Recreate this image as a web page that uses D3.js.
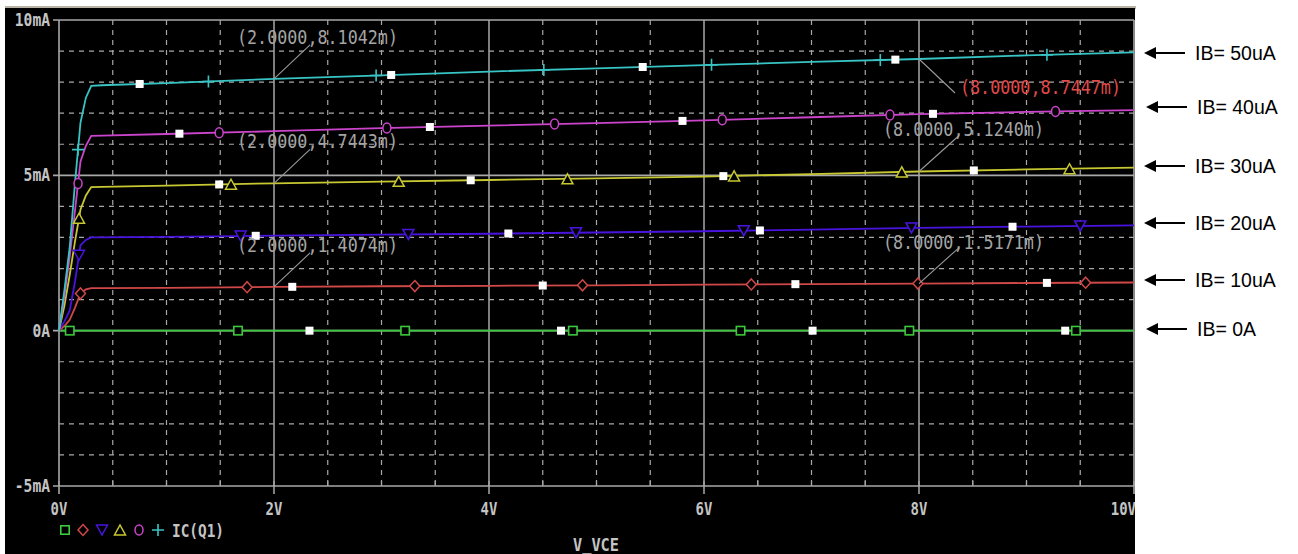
<!DOCTYPE html>
<html><head><meta charset="utf-8">
<script src="https://cdn.jsdelivr.net/npm/d3@7"></script>
<style>html,body{margin:0;padding:0;background:#fff;overflow:hidden}</style>
</head><body>
<svg id="c" width="1298" height="554"></svg>
<script>
// ---------- data ----------
const vce = [0, 0.05, 0.1, 0.15, 0.2, 0.25, 0.3, 0.4, 1, 2, 3, 4, 5, 6, 7, 8, 9, 10];
const ic_0uA  = [0,0,0,0,0,0,0,0,0,0,0,0,0,0,0,0,0,0];
const ic_10uA = [0,0.15,0.35,0.75,1.2,1.33,1.37,1.37,1.38,1.407,1.43,1.445,1.46,1.48,1.50,1.517,1.535,1.55];
const ic_20uA = [0,0.3,0.65,1.6,2.75,2.92,3.0,3.0,3.02,3.06,3.09,3.12,3.16,3.2,3.25,3.31,3.35,3.39];
const ic_30uA = [0,0.8,1.8,2.9,3.9,4.35,4.62,4.63,4.67,4.744,4.80,4.85,4.90,4.96,5.04,5.124,5.19,5.25];
const ic_40uA = [0,1.1,2.4,3.9,5.45,5.95,6.27,6.28,6.33,6.42,6.52,6.60,6.68,6.77,6.87,6.97,7.04,7.10];
const ic_50uA = [0,1.3,2.7,4.8,6.7,7.5,7.88,7.9,7.97,8.104,8.22,8.34,8.44,8.55,8.65,8.745,8.86,8.96];

const seriesNames = ["IB= 0A","IB= 10uA","IB= 20uA","IB= 30uA","IB= 40uA","IB= 50uA"];
const seriesColors = ["#3cc83c","#d04848","#4a14e0","#c8c832","#cc44cc","#38c4c4"];
const seriesSymbols = ["square","diamond","triDown","triUp","circle","plus"];
const seriesValues = [ic_0uA, ic_10uA, ic_20uA, ic_30uA, ic_40uA, ic_50uA];

// symbol marker positions (V) along each trace
const symMarks = [
  [0.10,1.665,3.22,4.78,6.34,7.91,9.46],
  [0.20,1.75,3.31,4.87,6.44,7.99,9.55],
  [0.186,1.69,3.25,4.81,6.37,7.93,9.50],
  [0.186,1.60,3.16,4.73,6.28,7.84,9.40],
  [0.177,1.49,3.05,4.61,6.17,7.73,9.27],
  [0.177,1.39,2.95,4.51,6.07,7.64,9.19]
];
// white square (data point) marker positions (V)
const whiteMarks = [
  [2.33,4.67,7.01,9.36],
  [2.17,4.50,6.85,9.19],
  [1.83,4.18,6.52,8.87],
  [1.49,3.83,6.18,8.51],
  [1.12,3.45,5.80,8.13],
  [0.75,3.09,5.43,7.78]
];

const yTickValues = [10,5,0,-5];
const yTickLabels = ["10mA","5mA","0A","-5mA"];
const xTickValues = [0,2,4,6,8,10];
const xTickLabels = ["0V","2V","4V","6V","8V","10V"];

const cursorX = [2,2,2,8,8,8];
const cursorY = [8.1042,4.7443,1.4074,8.7447,5.1240,1.5171];
const cursorText = ["(2.0000,8.1042m)","(2.0000,4.7443m)","(2.0000,1.4074m)","(8.0000,8.7447m)","(8.0000,5.1240m)","(8.0000,1.5171m)"];

const legendText = "IC(Q1)";
const xAxisTitle = "V_VCE";

// ---------- drawing ----------
const svg = d3.select("#c");
const x = d3.scaleLinear().domain([0,10]).range([59,1134]);
const y = d3.scaleLinear().domain([-5,10]).range([486,20]);

svg.append("rect").attr("width",1298).attr("height",554).attr("fill","#fff");
svg.append("defs").append("clipPath").attr("id","panel")
  .append("rect").attr("x",5).attr("y",8).attr("width",1130).attr("height",546);
svg.append("rect").attr("x",5).attr("y",6).attr("width",1131).attr("height",3).attr("fill","#b8b4a8");
const g = svg.append("g").attr("clip-path","url(#panel)");
g.append("rect").attr("x",5).attr("y",8).attr("width",1130).attr("height",546).attr("fill","#000");

const gridCol = "#a8a8a8";
// dashed grid
const vMinor = d3.range(0.5,10,0.5).filter(v => Math.abs(v/2 - Math.round(v/2))>1e-6);
g.selectAll(".vg").data(vMinor).join("line")
  .attr("x1",d=>x(d)).attr("x2",d=>x(d)).attr("y1",y(10)).attr("y2",y(-5))
  .attr("stroke",gridCol).attr("stroke-width",1.2).attr("stroke-dasharray","5,5");
const hMinor = d3.range(-4,10,1).filter(v => v!==0 && v!==5);
g.selectAll(".hg").data(hMinor).join("line")
  .attr("y1",d=>y(d)).attr("y2",d=>y(d)).attr("x1",x(0)).attr("x2",x(10))
  .attr("stroke",gridCol).attr("stroke-width",1.2).attr("stroke-dasharray","5,5");
// solid grid
g.selectAll(".vs").data([2,4,6,8]).join("line")
  .attr("x1",d=>x(d)).attr("x2",d=>x(d)).attr("y1",y(10)).attr("y2",y(-5)+8)
  .attr("stroke",gridCol).attr("stroke-width",1.5);
g.selectAll(".hs").data([10,5,0,-5]).join("line")
  .attr("y1",d=>y(d)).attr("y2",d=>y(d)).attr("x1",x(0)-6).attr("x2",x(10))
  .attr("stroke",gridCol).attr("stroke-width",1.6);
// axes frame
g.append("line").attr("x1",x(0)).attr("x2",x(0)).attr("y1",y(10)).attr("y2",y(-5)+8)
  .attr("stroke",gridCol).attr("stroke-width",1.6);
g.append("line").attr("x1",x(10)).attr("x2",x(10)).attr("y1",y(10)).attr("y2",y(-5)+8)
  .attr("stroke",gridCol).attr("stroke-width",1.6);
// minor ticks on x axis
g.selectAll(".xt").data(d3.range(0,10.01,0.5)).join("line")
  .attr("x1",d=>x(d)).attr("x2",d=>x(d)).attr("y1",y(-5)-5).attr("y2",y(-5))
  .attr("stroke",gridCol).attr("stroke-width",1.2);

const tickFont = "'DejaVu Sans Mono', monospace";
function tickText(sel){
  return sel.attr("font-family",tickFont).attr("font-size",17).attr("font-weight","bold")
    .attr("fill","#c4c4c4").attr("lengthAdjust","spacingAndGlyphs");
}
g.selectAll(".yl").data(yTickValues).join("text")
  .attr("x",50).attr("y",d=>y(d)+6).attr("text-anchor","end")
  .call(tickText)
  .attr("textLength",(d,i)=>yTickLabels[i].length*8.8)
  .text((d,i)=>yTickLabels[i]);
g.selectAll(".xl").data(xTickValues).join("text")
  .attr("x",d=> d===10 ? 1136 : x(d)).attr("y",515)
  .attr("text-anchor",d=> d===10 ? "end" : "middle")
  .call(tickText)
  .attr("textLength",(d,i)=>xTickLabels[i].length*8.4)
  .text((d,i)=>xTickLabels[i]);
g.append("text").attr("x",573).attr("y",551)
  .call(tickText).attr("textLength",46).text(xAxisTitle);

// traces
const line = d3.line().x(d=>x(d[0])).y(d=>y(d[1]));
seriesValues.forEach((vals,i)=>{
  g.append("path").datum(vce.map((v,k)=>[v,vals[k]]))
    .attr("d",line).attr("fill","none").attr("stroke",seriesColors[i]).attr("stroke-width",1.8);
});

function interp(vals, v){
  for (let k=1;k<vce.length;k++){
    if (v<=vce[k]){ const t=(v-vce[k-1])/(vce[k]-vce[k-1]); return vals[k-1]+t*(vals[k]-vals[k-1]); }
  }
  return vals[vals.length-1];
}
function drawSymbol(sel, type, cx, cy, color){
  const s = 4.2;
  if (type==="square") sel.append("rect").attr("x",cx-s).attr("y",cy-s).attr("width",2*s).attr("height",2*s)
      .attr("fill","#000").attr("stroke",color).attr("stroke-width",1.6);
  else if (type==="diamond") sel.append("path").attr("d",`M${cx},${cy-5.5}L${cx+5},${cy}L${cx},${cy+5.5}L${cx-5},${cy}Z`)
      .attr("fill","#000").attr("stroke",color).attr("stroke-width",1.5);
  else if (type==="triDown") sel.append("path").attr("d",`M${cx-5.5},${cy-5}L${cx+5.5},${cy-5}L${cx},${cy+5}Z`)
      .attr("fill","#000").attr("stroke",color).attr("stroke-width",1.5);
  else if (type==="triUp") sel.append("path").attr("d",`M${cx-5.5},${cy+5}L${cx+5.5},${cy+5}L${cx},${cy-5}Z`)
      .attr("fill","#000").attr("stroke",color).attr("stroke-width",1.5);
  else if (type==="circle") sel.append("ellipse").attr("cx",cx).attr("cy",cy).attr("rx",4).attr("ry",5)
      .attr("fill","#000").attr("stroke",color).attr("stroke-width",1.5);
  else if (type==="plus") sel.append("path").attr("d",`M${cx-6},${cy}H${cx+6}M${cx},${cy-6}V${cy+6}`)
      .attr("fill","none").attr("stroke",color).attr("stroke-width",1.6);
}
seriesValues.forEach((vals,i)=>{
  symMarks[i].forEach(v=>drawSymbol(g, seriesSymbols[i], x(v), y(interp(vals,v)), seriesColors[i]));
  g.selectAll(null).data(whiteMarks[i]).join("rect")
    .attr("x",v=>x(v)-4).attr("y",v=>y(interp(vals,v))-4).attr("width",8).attr("height",8)
    .attr("fill","#fff");
});

// cursor annotations
const annFont = "'DejaVu Sans Mono', monospace";
cursorText.forEach((t,i)=>{
  const px = x(cursorX[i]), py = y(cursorY[i]);
  let lx, ly, tx, ty, col = "#a4a4a4";
  if (cursorX[i]===2){ lx=px+36; ly=py-34; tx=px-37; ty=py-35; }
  else if (i===3){ lx=px+36; ly=py+34; tx=px+41; ty=py+35; col="#e04a4a"; }
  else { lx=px+39; ly=py-35; tx=px-36; ty=py-35; }
  g.append("line").attr("x1",px).attr("y1",py).attr("x2",lx).attr("y2",ly)
    .attr("stroke","#9a9a9a").attr("stroke-width",1.1);
  g.append("text").attr("x",tx).attr("y",ty).attr("font-family",annFont).attr("font-size",19)
    .attr("textLength",161).attr("lengthAdjust","spacingAndGlyphs")
    .attr("fill",col).text(t);
});

// legend
const legY = 530;
const legX = [65,83,102,120,139,158];
seriesSymbols.forEach((s,i)=>drawSymbol(g, s, legX[i], legY, seriesColors[i]));
g.append("text").attr("x",172).attr("y",legY+7).call(tickText)
  .attr("textLength",52).text(legendText);

// right-side IB labels with arrows
const ibY = [53,107,166,223,280,329];
const ibShift = [0,2,0,0,0,2];
const order = [5,4,3,2,1,0];
order.forEach((si,k)=>{
  const yy = ibY[k], dx = ibShift[k];
  const ax = 1144+dx;
  svg.append("line").attr("x1",ax+6).attr("x2",1185+dx).attr("y1",yy).attr("y2",yy)
    .attr("stroke","#000").attr("stroke-width",2);
  svg.append("path").attr("d",`M${ax},${yy}L${ax+12},${yy-6}L${ax+12},${yy+6}Z`).attr("fill","#000");
  svg.append("text").attr("x",1195+dx).attr("y",yy+7).attr("font-family","'Liberation Sans', Arial, sans-serif")
    .attr("font-size",19.5).attr("fill","#000").text(seriesNames[si]);
});
</script>
</body></html>
